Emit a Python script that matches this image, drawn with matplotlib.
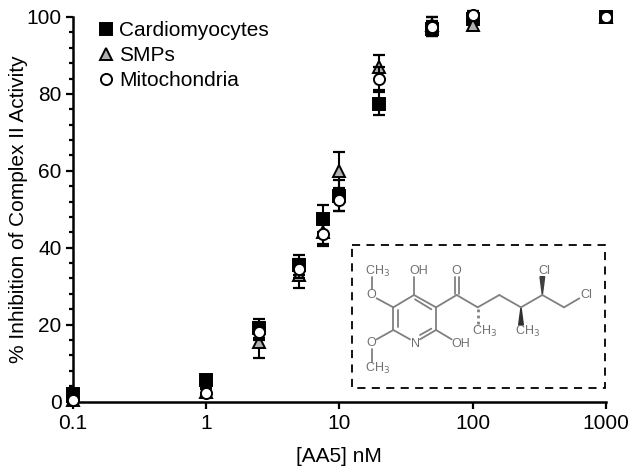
import matplotlib
matplotlib.use("Agg")
import matplotlib.pyplot as plt
from matplotlib.patches import Polygon, Rectangle

plt.rcParams['font.family'] = ['Liberation Sans', 'DejaVu Sans']

# values
conc = [0.1, 1, 2.5, 5, 7.5, 10, 20, 50, 100, 1000]
cardio = [2, 5.5, 19, 35.5, 47.5, 53.5, 77.5, 97, 99.5, 100]
cardio_err = [1, 1, 2.5, 2.5, 3.5, 4, 3, 2, 1, 0.5]
smp = [0.5, 2.5, 15.5, 33, 44, 60, 87, 98, 98, 100]
smp_err = [1, 1, 4.2, 3.5, 3, 5, 3, 2, 1.5, 0.5]
mito = [0.5, 2.2, 18, 34.5, 43.5, 52.5, 84, 97.5, 100.5, 100]
mito_err = [1, 1, 2, 2.5, 3, 3, 3, 2.5, 1, 0.5]
y_ticks = [0, 20, 40, 60, 80, 100]
x_ticks = [0.1, 1, 10, 100, 1000]
x_tick_labels = ['0.1', '1', '10', '100', '1000']

W, H = 638, 475
fig = plt.figure(figsize=(W / 100, H / 100), dpi=100)
ax = fig.add_axes([72.5 / W, 1 - 401.5 / H, (606 - 72.5) / W, (401.5 - 17) / H])

series = [
    (cardio, cardio_err, 's', 'black', 'Cardiomyocytes', 8, 3),
    (smp, smp_err, '^', '#b0b0b0', 'SMPs', 9, 4),
    (mito, mito_err, 'o', 'white', 'Mitochondria', 8, 5),
]
for vals, errs, mk, col, lab, ms, z in series:
    eb = ax.errorbar(conc, vals, yerr=errs, fmt='none', ecolor='black', elinewidth=1.5,
                     capsize=4.5, capthick=1.6, zorder=z, clip_on=False)
    for part in eb.lines[1] + eb.lines[2]:
        part.set_clip_on(False)
    ax.plot(conc, vals, ls='none', marker=mk, ms=ms, mfc=col, mec='black', mew=1.4,
            label=lab, zorder=z + 0.5, clip_on=False)

ax.set_xscale('log')
ax.set_xlim(0.1, 1000)
ax.set_ylim(0, 100)
ax.set_xticks(x_ticks)
ax.set_xticklabels(x_tick_labels)
ax.minorticks_off()
ax.set_yticks(y_ticks)
ax.set_yticks([v for v in range(0, 101, 4) if v % 20], minor=True)
ax.tick_params(axis='both', which='major', labelsize=15, width=1.6, length=5, pad=3)
ax.tick_params(axis='x', which='major', pad=4)
ax.tick_params(axis='y', which='minor', width=1.6, length=3)
for s in ['top', 'right']:
    ax.spines[s].set_visible(False)
for s in ['left', 'bottom']:
    ax.spines[s].set_linewidth(1.8)
ax.set_xlabel('[AA5] nM', fontsize=15, labelpad=10)
ax.set_ylabel('% Inhibition of Complex II Activity', fontsize=15, labelpad=-1)

ax.legend(loc='upper left', bbox_to_anchor=(22 / 533.5, 1 - 4 / 384.5), frameon=False, fontsize=15,
          handletextpad=0.1, labelspacing=0.3, borderpad=0, borderaxespad=0, handlelength=1.1)

# inset with the structure, in pixels of the reference crop
mol = fig.add_axes([340 / W, 1 - 400 / H, 298 / W, 170 / H])
mol.set_xlim(0, 894)
mol.set_ylim(510, 0)
mol.axis('off')
mol.patch.set_alpha(0)
mol.add_patch(Rectangle((37, 45), 758, 428, fill=False, ec='black', lw=1.3, ls=(0, (4.5, 3.5))))

grey = '#808080'
bonds = [
    ((222, 195), (288, 232)), ((288, 232), (288, 300)), ((288, 300), (240, 328)),
    ((210, 328), (160, 300)), ((160, 300), (160, 232)), ((160, 232), (222, 195)),
    ((225, 208), (274, 238)), ((274, 296), (240, 315)), ((175, 240), (175, 292)),
    ((222, 195), (222, 140)), ((160, 232), (110, 205)), ((95, 178), (95, 140)),
    ((160, 300), (110, 328)), ((95, 358), (95, 395)), ((288, 300), (335, 328)),
    ((288, 232), (350, 195)), ((344, 192), (344, 140)), ((356, 192), (356, 140)),
    ((350, 195), (413, 232)), ((413, 232), (478, 195)), ((478, 195), (543, 232)),
    ((543, 232), (607, 195)), ((607, 195), (672, 232)), ((672, 232), (718, 205)),
]
for a, b in bonds:
    mol.plot([a[0], b[0]], [a[1], b[1]], color=grey, lw=1.3, solid_capstyle='round')
mol.add_patch(Polygon([(607, 195), (600, 140), (614, 140)], color='#404040'))
mol.add_patch(Polygon([(543, 232), (536, 285), (550, 285)], color='#303030'))
mol.plot([413, 413], [238, 285], color=grey, lw=2, ls=(0, (1, 1.2)))
labels = [
    (113, 125, 'CH$_3$'), (235, 124, 'OH'), (350, 123, 'O'), (95, 195, 'O'), (95, 340, 'O'),
    (113, 415, 'CH$_3$'), (225, 341, 'N'), (362, 342, 'OH'), (435, 305, 'CH$_3$'),
    (562, 305, 'CH$_3$'), (612, 122, 'Cl'), (740, 195, 'Cl'),
]
for x, y, t in labels:
    mol.text(x, y, t, color='#707070', fontsize=9, ha='center', va='center', math_fontfamily='custom')

fig.savefig('out.png', dpi=100)
